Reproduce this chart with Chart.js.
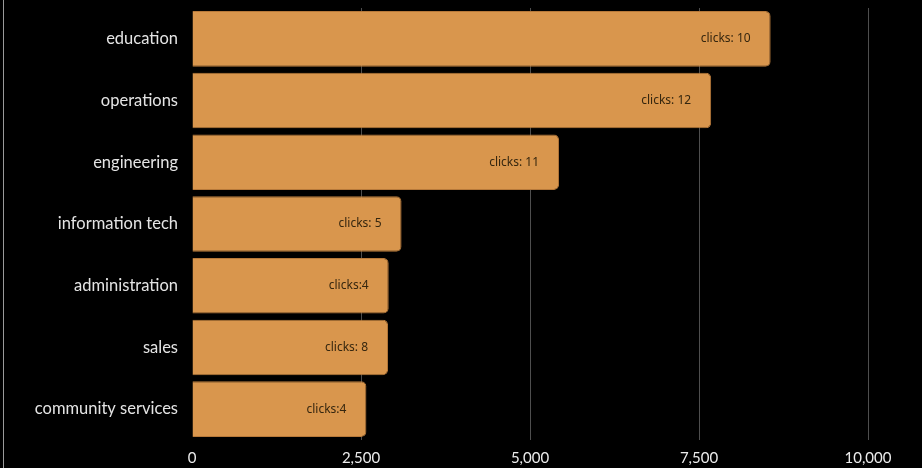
<!DOCTYPE html>
<html>
<head>
<meta charset="utf-8">
<script src="https://cdn.jsdelivr.net/npm/chart.js@4"></script>
<style>
  html, body { margin: 0; padding: 0; background: #000; }
  #wrap { position: relative; width: 922px; height: 468px; }
  #edge { position: absolute; left: 3px; top: 0; width: 1px; height: 468px; background: #9a9a9a; }
</style>
</head>
<body>
<div id="wrap">
  <canvas id="dept-chart" width="922" height="468"></canvas>
  <div id="edge"></div>
</div>
<script>
const departments = ['education', 'operations', 'engineering', 'information tech', 'administration', 'sales', 'community services'];
const visits = [8560, 7680, 5430, 3100, 2910, 2900, 2580];
const clickLabels = ['clicks: 10', 'clicks: 12', 'clicks: 11', 'clicks: 5', 'clicks:4', 'clicks: 8', 'clicks:4'];

// writes the click text inside each bar, right aligned near its end
const barText = {
    id: 'barText',
    afterDatasetsDraw(chart) {
        const { ctx } = chart;
        const meta = chart.getDatasetMeta(0);
        ctx.save();
        ctx.font = '12px "Noto Sans", sans-serif';
        ctx.fillStyle = '#35260f';
        ctx.textAlign = 'right';
        ctx.textBaseline = 'middle';
        meta.data.forEach((bar, i) => {
            ctx.fillText(clickLabels[i], bar.x - 20, bar.y);
        });
        ctx.restore();
    }
};

const ctx = document.getElementById('dept-chart').getContext('2d');
new Chart(ctx, {
    type: 'bar',
    data: {
        labels: departments,
        datasets: [{
            data: visits,
            backgroundColor: '#d9964d',
            borderColor: '#b7793a',
            borderWidth: 1,
            borderRadius: 5,
            barPercentage: 0.9,
            categoryPercentage: 1
        }]
    },
    options: {
        indexAxis: 'y',
        responsive: false,
        animation: false,
        layout: { padding: { top: 8, right: 54, bottom: 2, left: 0 } },
        plugins: { legend: { display: false }, tooltip: { enabled: false } },
        scales: {
            x: {
                min: 0,
                max: 10000,
                border: { display: false },
                afterFit: (scale) => {
                    scale.height = 26;
                    scale.paddingLeft = 0;
                    scale.paddingRight = 0;
                },
                grid: {
                    drawTicks: false,
                    color: (c) => c.tick && c.tick.value === 0 ? 'rgba(0,0,0,0)' : '#4e4e4e',
                    lineWidth: 1
                },
                ticks: {
                    stepSize: 2500,
                    padding: 9,
                    color: '#ececec',
                    font: { family: 'Lato', size: 15 }
                }
            },
            y: {
                border: { display: false },
                grid: { display: false, drawTicks: false },
                afterFit: (scale) => {
                    scale.width = 192;
                    scale.paddingTop = 0;
                    scale.paddingBottom = 0;
                },
                ticks: {
                    padding: 14,
                    color: '#e4e4e4',
                    font: { family: 'Lato', size: 16.5 }
                }
            }
        }
    },
    plugins: [barText]
});
</script>
</body>
</html>
